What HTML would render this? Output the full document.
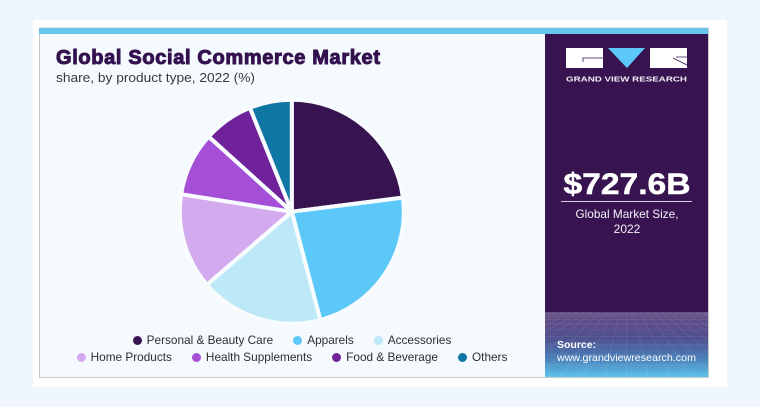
<!DOCTYPE html>
<html lang="en">
<head>
<meta charset="utf-8">
<title>Global Social Commerce Market</title>
<style>
html,body{margin:0;padding:0;width:760px;height:407px;overflow:hidden;background:#f0f6fd;font-family:"Liberation Sans",sans-serif}
#stage{position:absolute;left:0;top:0;width:760px;height:407px}
#legend{position:absolute;left:40px;width:504px;top:332px;font-size:11.8px;line-height:17px;color:#2e2e2e}
.legend-row{display:flex;justify-content:center;gap:20px;white-space:nowrap}
.legend-item{display:flex;align-items:center}
.legend-dot{width:9px;height:9px;border-radius:50%;margin-right:5px;flex:none}
</style>
</head>
<body>
<svg id="stage" width="760" height="407" viewBox="0 0 760 407" xmlns="http://www.w3.org/2000/svg">
  <defs>
    <linearGradient id="panelFade" x1="0" y1="0" x2="0" y2="1">
      <stop offset="0" stop-color="#664c84"/>
      <stop offset="0.4" stop-color="#50508f"/>
      <stop offset="0.7" stop-color="#4a7cb6"/>
      <stop offset="1" stop-color="#5bc4ea"/>
    </linearGradient>
    <clipPath id="meshClip"><rect x="545" y="312" width="163" height="65"/></clipPath>
  </defs>
  <rect width="760" height="407" fill="#f0f6fd"/>
  <rect x="33" y="20" width="694" height="367" fill="#ffffff"/>
  <rect x="39.5" y="28" width="669" height="349.5" fill="#f5fafe" stroke="#c9c9cd" stroke-width="1"/>
  <rect x="39" y="28" width="669" height="6" fill="#66c6ec"/>
  <rect x="545" y="34" width="163" height="343" fill="#371450"/>
  <rect x="545" y="312" width="163" height="65" fill="url(#panelFade)"/>
  <g id="grid" stroke="#ffffff" stroke-opacity="0.11" stroke-width="0.7" fill="none" clip-path="url(#meshClip)"></g>

  <text x="56" y="64" font-size="20" font-weight="700" fill="#33124f" stroke="#33124f" stroke-width="1" textLength="324" lengthAdjust="spacing">Global Social Commerce Market</text>
  <text x="56" y="82" font-size="13" fill="#3a3a3a" textLength="199" lengthAdjust="spacingAndGlyphs">share, by product type, 2022 (%)</text>

  <g id="pie"></g>

  <g>
    <rect x="566" y="48" width="37" height="20" fill="#ffffff"/>
    <path d="M603 58H583V62" stroke="#371450" stroke-width="0.8" fill="none"/>
    <polygon points="608,48 645,48 627,68" fill="#5bc8f8"/>
    <rect x="650" y="48" width="37" height="20" fill="#ffffff"/>
    <path d="M673 58L687 65M676 57H687" stroke="#371450" stroke-width="0.8" fill="none"/>
    <text x="566" y="81.5" font-size="7.6" font-weight="700" fill="#f2eef6" textLength="121" lengthAdjust="spacingAndGlyphs">GRAND VIEW RESEARCH</text>
  </g>

  <text x="627" y="194" text-anchor="middle" font-size="30" font-weight="700" fill="#ffffff" stroke="#ffffff" stroke-width="0.5" textLength="127" lengthAdjust="spacingAndGlyphs">$727.6B</text>
  <rect x="561" y="201" width="131" height="1" fill="#d9cde3"/>
  <text x="627" y="218" text-anchor="middle" font-size="12" fill="#f4f0f8" textLength="103" lengthAdjust="spacingAndGlyphs">Global Market Size,</text>
  <text x="627" y="233" text-anchor="middle" font-size="12" fill="#f4f0f8">2022</text>

  <text x="557" y="348" font-size="10.5" font-weight="700" fill="#ffffff">Source:</text>
  <text x="557" y="361" font-size="10.5" fill="#ffffff" textLength="139" lengthAdjust="spacingAndGlyphs">www.grandviewresearch.com</text>
</svg>
<div id="legend"></div>

<script>
const categories = ["Personal & Beauty Care", "Apparels", "Accessories", "Home Products", "Health Supplements", "Food & Beverage", "Others"];
const shares = [23.0, 22.9, 17.8, 13.8, 9.2, 7.2, 6.1];
const sliceColors = ["#371450", "#5bc8f8", "#bde8f8", "#d3aaee", "#a44fd6", "#6f2299", "#0f77a3"];
const legendFirstRowCount = 3;

const NS = "http://www.w3.org/2000/svg";
const cx = 291.8, cy = 211.7, radius = 112;
const total = shares.reduce(function (a, b) { return a + b; }, 0);

function angleScale(v) {
  return v / total * Math.PI * 2;
}
function pointAt(a) {
  return [cx + radius * Math.sin(a), cy - radius * Math.cos(a)];
}

const pie = document.getElementById("pie");
let running = 0;
shares.forEach(function (v, i) {
  const a0 = angleScale(running);
  running += v;
  const a1 = angleScale(running);
  const p0 = pointAt(a0), p1 = pointAt(a1);
  const large = a1 - a0 > Math.PI ? 1 : 0;
  const path = document.createElementNS(NS, "path");
  path.setAttribute("d", "M" + cx + " " + cy + "L" + p0[0] + " " + p0[1] + "A" + radius + " " + radius + " 0 " + large + " 1 " + p1[0] + " " + p1[1] + "Z");
  path.setAttribute("fill", sliceColors[i]);
  path.setAttribute("stroke", "#f8fcff");
  path.setAttribute("stroke-width", "4");
  path.setAttribute("stroke-linejoin", "round");
  
  
  pie.appendChild(path);
});

const legend = document.getElementById("legend");
[categories.slice(0, legendFirstRowCount), categories.slice(legendFirstRowCount)].forEach(function (row, r) {
  const rowEl = document.createElement("div");
  rowEl.className = "legend-row";
  
  
  row.forEach(function (name, j) {
    const idx = (r === 0 ? 0 : legendFirstRowCount) + j;
    const item = document.createElement("div");
    item.className = "legend-item";
    
    
    const dot = document.createElement("span");
    dot.className = "legend-dot";
    dot.style.background = sliceColors[idx];
    
    
    const label = document.createElement("span");
    label.textContent = name;
    
    
    item.appendChild(dot);
    item.appendChild(label);
    rowEl.appendChild(item);
  });
  legend.appendChild(rowEl);
});

/* decorative perspective mesh in the side panel */
const grid = document.getElementById("grid");
let d = "";
for (let k = 0; k < 11; k++) {
  const t = k / 10;
  const y = 314 + 63 * t * t;
  d += "M545 " + y.toFixed(1) + "H708";
}
for (let k = -14; k <= 14; k++) {
  d += "M" + (626.5 + k * 7) + " 312L" + (626.5 + k * 22) + " 377";
}
const mesh = document.createElementNS(NS, "path");
mesh.setAttribute("d", d);


grid.appendChild(mesh);
</script>
</body>
</html>
